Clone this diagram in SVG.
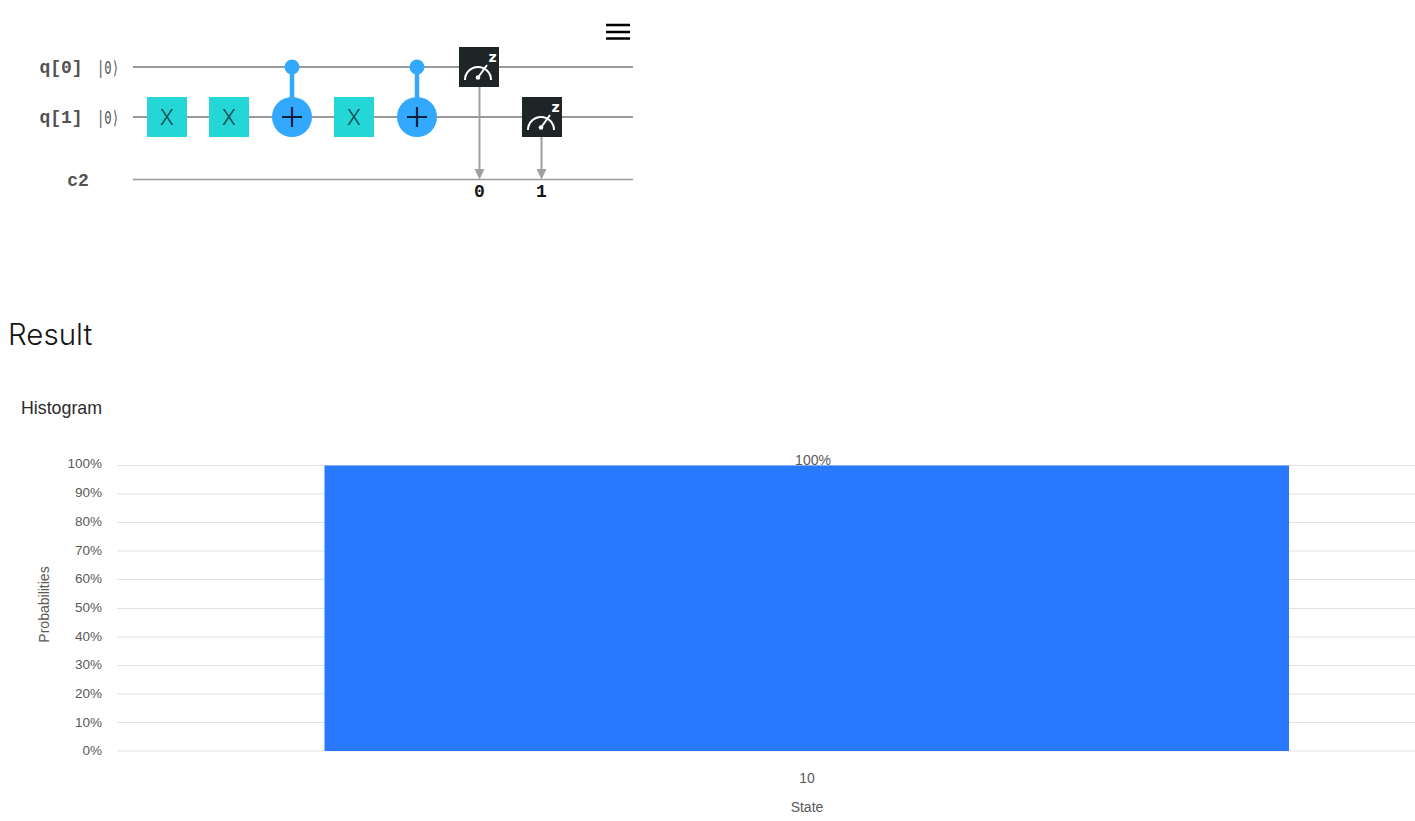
<svg xmlns="http://www.w3.org/2000/svg" width="1415" height="821" viewBox="0 0 1415 821">
<defs>
<style>
.wire{stroke:#9a9a9a;stroke-width:2;fill:none}
.cw{stroke:#9a9a9a;stroke-width:1.5;fill:none}
.lab{font-family:"Liberation Mono","DejaVu Sans Mono",monospace;font-size:18px;font-weight:700;fill:#525252;text-anchor:middle}
.ket{font-family:"DejaVu Sans Mono","Liberation Mono",monospace;font-size:18px;fill:#525252}
.bit{font-family:"Liberation Mono","DejaVu Sans Mono",monospace;font-size:18px;font-weight:700;fill:#161616;text-anchor:middle}
.xg{fill:#24d6d6}
.xt{font-family:Inter,"Liberation Sans",sans-serif;font-size:21px;font-weight:300;fill:#0b4a50;text-anchor:middle}
.blue{fill:#33a8ff}
.bl{stroke:#33a8ff;stroke-width:4.500;fill:none}
.plus{stroke:#08203c;stroke-width:2.200;fill:none}
.mbox{fill:#1f2427}
.mw{stroke:#fff;stroke-width:2;fill:none}
.mz{font-family:"DejaVu Sans","Liberation Sans",sans-serif;font-size:14px;font-weight:700;fill:#fff;text-anchor:middle}
.arrow{stroke:#a0a0a0;stroke-width:2;fill:none}
.ah{fill:#a0a0a0}
.grid{stroke:#e2e2e2;stroke-width:1}
.tick{font-family:"Liberation Sans",Arial,sans-serif;font-size:13.500px;fill:#5a5a5a;text-anchor:end}
.ax{font-family:"Liberation Sans",Arial,sans-serif;font-size:14px;fill:#5a5a5a;text-anchor:middle}
</style>
</defs>
<g id="connectors">
<path class="wire" d="M133 67H633M133 117H633"/>
<path class="cw" d="M133 179.500H633"/>
<path class="arrow" d="M479.500 87V170M541.500 137V170"/>
<path class="ah" d="M474.500 169h10l-5 10.500zM536.500 169h10l-5 10.500z"/>
<path class="bl" d="M292 67V100M417 67V100"/>
</g>
<g id="label-q0"><text class="lab" x="61" y="72.500">q[0]</text><text class="ket" x="97" y="73.500" textLength="22" lengthAdjust="spacingAndGlyphs">|0⟩</text></g>
<g id="label-q1"><text class="lab" x="61" y="122.500">q[1]</text><text class="ket" x="97" y="123.500" textLength="22" lengthAdjust="spacingAndGlyphs">|0⟩</text></g>
<g id="label-c2"><text class="lab" x="78" y="185.500">c2</text></g>
<g id="x1"><rect class="xg" x="147" y="97" width="40" height="40"/><text class="xt" x="167" y="124.500">X</text></g>
<g id="x2"><rect class="xg" x="209" y="97" width="40" height="40"/><text class="xt" x="229" y="124.500">X</text></g>
<g id="cx1"><circle class="blue" cx="292" cy="67" r="7.500"/><circle class="blue" cx="292" cy="117" r="20"/><path class="plus" d="M282 117H302M292 107V127"/></g>
<g id="x3"><rect class="xg" x="334" y="97" width="40" height="40"/><text class="xt" x="354" y="124.500">X</text></g>
<g id="cx2"><circle class="blue" cx="417" cy="67" r="7.500"/><circle class="blue" cx="417" cy="117" r="20"/><path class="plus" d="M407 117H427M417 107V127"/></g>
<g id="m0"><rect class="mbox" x="459" y="47" width="40" height="40"/><path class="mw" d="M465 80a13 13 0 0 1 26 0M478 77.500L487 65"/><circle cx="478" cy="77.500" r="2.300" fill="#fff"/><text class="mz" x="492.500" y="62">z</text></g>
<g id="m1"><rect class="mbox" x="522" y="97" width="40" height="40"/><path class="mw" d="M528 130a13 13 0 0 1 26 0M541 127.500L550 115"/><circle cx="541" cy="127.500" r="2.300" fill="#fff"/><text class="mz" x="555.500" y="112">z</text></g>
<g id="bit0"><text class="bit" x="479.500" y="196.500">0</text></g>
<g id="bit1"><text class="bit" x="541.500" y="196.500">1</text></g>
<g id="menu"><path stroke="#000" stroke-width="2.600" fill="none" d="M606 25H630M606 32H630M606 38.500H630"/></g>
<text x="8" y="345" font-family="Inter,'Liberation Sans',sans-serif" font-size="29.500px" font-weight="300" fill="#161616">Result</text>
<text x="21" y="413.500" font-family="'Liberation Sans',Arial,sans-serif" font-size="17.800px" fill="#2b2b2b">Histogram</text>
<g id="grid"><path class="grid" d="M117 465.500H1415M117 494H1415M117 522.500H1415M117 551H1415M117 579.500H1415M117 608.500H1415M117 637H1415M117 665.500H1415M117 694H1415M117 722.500H1415M117 751H1415"/></g>
<g id="ticks">
<text class="tick" x="102" y="468">100%</text><text class="tick" x="102" y="497">90%</text><text class="tick" x="102" y="526">80%</text><text class="tick" x="102" y="554.500">70%</text><text class="tick" x="102" y="583">60%</text><text class="tick" x="102" y="612">50%</text><text class="tick" x="102" y="640.500">40%</text><text class="tick" x="102" y="669">30%</text><text class="tick" x="102" y="698">20%</text><text class="tick" x="102" y="726.500">10%</text><text class="tick" x="102" y="755">0%</text>
</g>
<g id="bar"><rect x="324.500" y="465.500" width="964.500" height="285.500" fill="#2979ff"/></g>
<text class="ax" x="813" y="465">100%</text>
<text class="ax" x="807" y="782.500">10</text>
<text class="ax" x="807" y="811.500">State</text>
<text class="ax" transform="translate(48.500 604.500) rotate(-90)">Probabilities</text>
</svg>
